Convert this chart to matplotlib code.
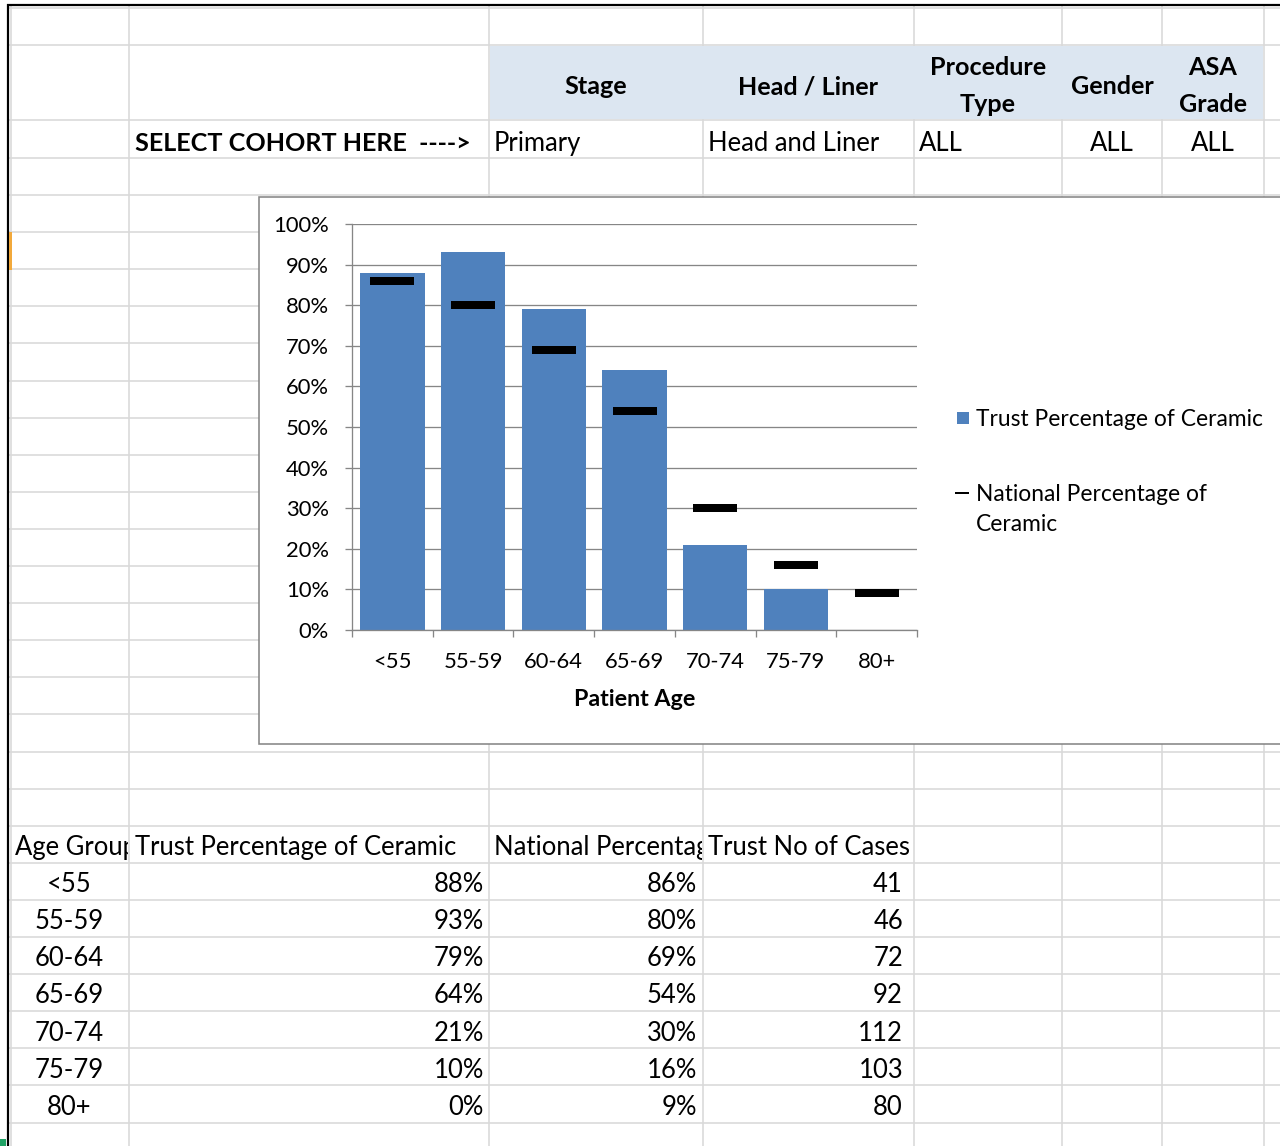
import matplotlib
matplotlib.use('Agg')
import matplotlib.pyplot as plt
from matplotlib.patches import Rectangle
from matplotlib.textpath import TextPath
from matplotlib.font_manager import FontProperties
from matplotlib.transforms import Bbox, TransformedBbox

# ---------------- data ----------------
age_groups = ['<55', '55-59', '60-64', '65-69', '70-74', '75-79', '80+']
trust_pct = [0.88, 0.93, 0.79, 0.64, 0.21, 0.10, 0.00]
national_pct = [0.86, 0.80, 0.69, 0.54, 0.30, 0.16, 0.09]
trust_cases = [41, 46, 72, 92, 112, 103, 80]
y_ticks = [0.0, 0.1, 0.2, 0.3, 0.4, 0.5, 0.6, 0.7, 0.8, 0.9, 1.0]
y_tick_labels = ['0%', '10%', '20%', '30%', '40%', '50%', '60%', '70%', '80%', '90%', '100%']

filter_headers = [['Stage'], ['Head / Liner'], ['Procedure', 'Type'], ['Gender'], ['ASA', 'Grade']]
filter_values = ['Primary', 'Head and Liner', 'ALL', 'ALL', 'ALL']
cohort_prompt = 'SELECT COHORT HERE  ---->'
table_headers = ['Age Group', 'Trust Percentage of Ceramic',
                 'National Percentage of Ceramic', 'Trust No of Cases']
chart_xlabel = 'Patient Age'
legend_labels = ['Trust Percentage of Ceramic', 'National Percentage of\nCeramic']

# ---------------- layout / style ----------------
W, H, DPI = 1280, 1146, 100
FAMILY = ['Lato', 'DejaVu Sans']
BLUE = '#4f81bd'
GRID = '#d9d9d9'
CHART_GRAY = '#868686'
HEADER_FILL = '#dce6f1'

fp_reg = FontProperties(family=FAMILY)
fp_bold = FontProperties(family=FAMILY, weight='bold')


def px_for(s, target, fp):
    w = TextPath((0, 0), s, size=100, prop=fp).get_extents().width
    return 100.0 * target / w


CAP = TextPath((0, 0), 'H', size=100, prop=fp_reg).get_extents().height / 100.0
cell_px = px_for('Trust Percentage of Ceramic', 321, fp_reg)
bold_px = px_for('Head / Liner', 138, fp_bold)
chart_px = 0.5 * (px_for('55-59', 57, fp_reg) + px_for('100%', 53, fp_reg))
legend_px = px_for('Trust Percentage of Ceramic', 285, fp_reg)
title_px = px_for('Patient Age', 119, fp_bold)


def pt(px):
    return px * 72.0 / DPI


fig = plt.figure(figsize=(W / DPI, H / DPI), dpi=DPI)
fig.patch.set_facecolor('white')
bg = fig.add_axes([0, 0, 1, 1])
bg.set_xlim(0, W)
bg.set_ylim(H, 0)
bg.axis('off')


def put(x, y, s, px, bold=False, ha='left', clip_x=None, z=8):
    t = bg.text(x, y + CAP * px / 2.0, s, fontsize=pt(px),
                fontweight='bold' if bold else 'normal', ha=ha, va='baseline',
                color='black', zorder=z, family=FAMILY)
    if clip_x is not None:
        x0, x1 = clip_x
        bb = Bbox.from_extents(x0 / W, 0, x1 / W, 1)
        t.set_clip_box(TransformedBbox(bb, fig.transFigure))
        t.set_clip_on(True)
    else:
        t.set_clip_on(False)
    return t


# spreadsheet gridlines
col_x = [10.5, 129, 489, 703, 914, 1062, 1162, 1264]
row_y = [8, 45, 120, 158] + [195 + 37.1 * k for k in range(26)]
for x in col_x:
    bg.plot([x, x], [5, H], color=GRID, lw=pt(1.6), zorder=1, solid_capstyle='butt')
for y in row_y:
    bg.plot([9, W], [y, y], color=GRID, lw=pt(1.6), zorder=1, solid_capstyle='butt')

# sheet borders
bg.plot([8, 8], [4, H], color='black', lw=pt(2.2), zorder=3, solid_capstyle='butt')
bg.plot([7, W], [5, 5], color='black', lw=pt(2.2), zorder=3, solid_capstyle='butt')
bg.add_patch(Rectangle((9, 232), 3, 38, fc='#f2a93b', ec='none', zorder=3))
bg.add_patch(Rectangle((0, 1139), 6, 7, fc='#21a366', ec='none', zorder=3))

# filter header fill
bg.add_patch(Rectangle((489.8, 46), 1264 - 489.8 - 0.8, 73.2, fc=HEADER_FILL, ec='none', zorder=2))

# filter header texts
cols = [(489, 703), (703, 914), (914, 1062), (1062, 1162), (1162, 1264)]
for (c0, c1), lines in zip(cols, filter_headers):
    cx = 0.5 * (c0 + c1)
    if len(lines) == 1:
        put(cx, 85, lines[0], bold_px, bold=True, ha='center')
    else:
        put(cx, 66, lines[0], bold_px, bold=True, ha='center')
        put(cx, 103, lines[1], bold_px, bold=True, ha='center')

put(135, 142, cohort_prompt, bold_px, bold=True)
for i, ((c0, c1), v) in enumerate(zip(cols, filter_values)):
    if i < 3:
        put(c0 + 5, 142, v, cell_px)
    else:
        put(0.5 * (c0 + c1), 142, v, cell_px, ha='center')

# lower data table
hdr_y = 846
put(15, hdr_y, table_headers[0], cell_px, clip_x=(9, 128))
put(135, hdr_y, table_headers[1], cell_px, clip_x=(129, 488))
put(494, hdr_y, table_headers[2], cell_px, clip_x=(489, 702))
put(708, hdr_y, table_headers[3], cell_px, clip_x=(703, 913))
for i, (g, tp, npct, nc) in enumerate(zip(age_groups, trust_pct, national_pct, trust_cases)):
    yy = 883 + 37.1 * i
    put(69, yy, g, cell_px, ha='center')
    put(484, yy, f'{tp:.0%}', cell_px, ha='right')
    put(697, yy, f'{npct:.0%}', cell_px, ha='right')
    put(903, yy, f'{nc}', cell_px, ha='right')

# chart area box
bg.add_patch(Rectangle((259, 197), 1100, 547, fc='white', ec=CHART_GRAY, lw=pt(1.6), zorder=5))

# legend (drawn inside chart area)
bg.add_patch(Rectangle((957, 412), 12, 12, fc=BLUE, ec='none', zorder=8))
put(976, 418, legend_labels[0], legend_px)
bg.plot([955, 969], [493, 493], color='black', lw=pt(2), zorder=8, solid_capstyle='butt')
for k, line in enumerate(legend_labels[1].split('\n')):
    put(976, 493 + 30 * k, line, legend_px)

# plot area
PL, PR, PT, PB = 352, 917, 224, 630
ax = fig.add_axes([PL / W, 1 - PB / H, (PR - PL) / W, (PB - PT) / H], zorder=6)
ax.patch.set_alpha(0)
xs = list(range(len(age_groups)))
ax.bar(xs, trust_pct, width=0.8, color=BLUE, zorder=2)
ax.plot(xs, national_pct, ls='none', marker='_', ms=pt(44), mew=pt(8), color='black', zorder=3)
ax.set_xlim(-0.5, len(age_groups) - 0.5)
ax.set_ylim(0, 1)
ax.set_yticks(y_ticks, labels=y_tick_labels)
ax.yaxis.grid(True, color=CHART_GRAY, lw=pt(1.3))
ax.set_axisbelow(True)
ax.set_xticks([i - 0.5 for i in range(len(age_groups) + 1)], labels=[])
ax.set_xticks(xs, labels=age_groups, minor=True)
ax.tick_params(axis='x', which='major', direction='out', length=pt(7), width=pt(1.3), color=CHART_GRAY)
ax.tick_params(axis='x', which='minor', length=0, pad=pt(22), labelsize=pt(chart_px))
ax.tick_params(axis='y', direction='out', length=pt(7), width=pt(1.3), color=CHART_GRAY,
               pad=pt(16), labelsize=pt(chart_px))
for lab in ax.get_xticklabels(minor=True) + ax.get_yticklabels():
    lab.set_family(FAMILY)
for s in ['top', 'right']:
    ax.spines[s].set_visible(False)
for s in ['left', 'bottom']:
    ax.spines[s].set_color(CHART_GRAY)
    ax.spines[s].set_linewidth(pt(1.3))
ax.set_xlabel(chart_xlabel, fontsize=pt(title_px), fontweight='bold', family=FAMILY)
ax.xaxis.set_label_coords(0.5, (PB - 689) / (PB - PT))

fig.savefig('out.png', dpi=DPI, facecolor='white')
